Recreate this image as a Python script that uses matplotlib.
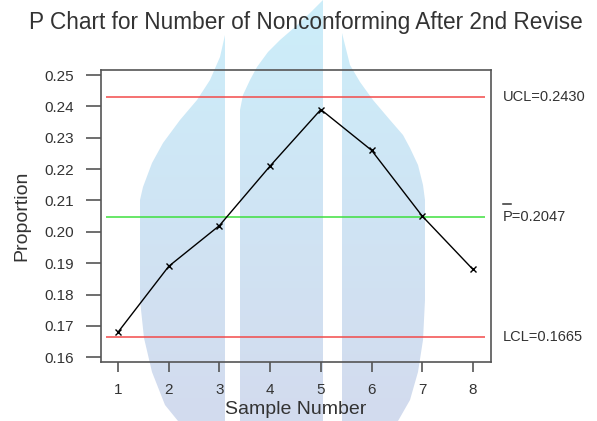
import numpy as np
import matplotlib
matplotlib.use("Agg")
import matplotlib.pyplot as plt
from matplotlib.path import Path
from matplotlib.patches import PathPatch
from matplotlib.transforms import blended_transform_factory

plt.rcParams['font.family'] = ['Liberation Sans', 'DejaVu Sans']

# data
samples = [1, 2, 3, 4, 5, 6, 7, 8]
proportion = [0.168, 0.189, 0.202, 0.221, 0.239, 0.226, 0.205, 0.188]
ucl = 0.2430
center = 0.2047
lcl = 0.1665
yticks = [0.16, 0.17, 0.18, 0.19, 0.20, 0.21, 0.22, 0.23, 0.24, 0.25]
ytick_labels = ["0.16", "0.17", "0.18", "0.19", "0.20", "0.21", "0.22", "0.23", "0.24", "0.25"]

W, H = 597, 421
fig = plt.figure(figsize=(W / 100, H / 100), dpi=100)
fig.patch.set_facecolor('white')

# watermark background (pixel coordinates)
bg = fig.add_axes([0, 0, 1, 1], zorder=0)
bg.set_xlim(0, W)
bg.set_ylim(H, 0)
bg.axis('off')
top_c = np.array([204, 238, 250]) / 255
bot_c = np.array([211, 219, 238]) / 255
t = np.linspace(0, 1, H)[:, None, None]
grad = top_c[None, None, :] * (1 - t) + bot_c[None, None, :] * t
left_shape = [(225, 35), (225, 421), (178, 421), (165, 405), (152, 372), (144, 338), (140, 300),
              (140, 200), (143, 187), (152, 163), (163, 143), (180, 120), (197, 100), (210, 80), (220, 57)]
mid_shape = [(240, 421), (240, 110), (243, 95), (250, 80), (257, 67), (268, 52), (280, 40),
             (295, 27), (310, 13), (323, 0), (323, 421)]
right_shape = [(342, 33), (342, 421), (398, 421), (410, 400), (418, 372), (423, 340), (425, 300),
               (425, 200), (423, 185), (418, 165), (410, 148), (403, 135), (390, 120), (373, 100),
               (360, 82), (350, 65)]
paths = [Path(np.array(s + [s[0]]), closed=True) for s in (left_shape, mid_shape, right_shape)]
comp = Path.make_compound_path(*paths)
patch = PathPatch(comp, facecolor='none', edgecolor='none')
bg.add_patch(patch)
im = bg.imshow(grad, extent=[0, W, H, 0], aspect='auto', zorder=0)
im.set_clip_path(patch)
bg.set_xlim(0, W)
bg.set_ylim(H, 0)

# main axes
ax = fig.add_axes([100.7 / W, 1 - 362.3 / H, (491 - 100.7) / W, (362.3 - 70) / H], zorder=1)
ax.set_facecolor('none')
ax.set_xlim(0.659, 8.355)
ax.set_ylim(0.1584, 0.2516)

ax.hlines([ucl, lcl], 0.76, 8.24, colors='#f24a4a', lw=1.1)
ax.hlines([center], 0.76, 8.24, colors='#3ee03e', lw=1.1)
ax.plot(samples, proportion, color='black', lw=1.0, marker='x', markersize=5, markeredgewidth=1.0)

for s in ax.spines.values():
    s.set_color('#555555')
    s.set_linewidth(1.2)

ax.set_xticks(samples)
ax.set_xticklabels([str(s) for s in samples])
ax.set_yticks(yticks)
ax.set_yticklabels(ytick_labels)
ax.tick_params(axis='y', length=11, width=1.2, color='#555555', pad=8,
               labelsize=11, labelcolor='#333333')
ax.tick_params(axis='x', length=7, width=1.2, color='#555555', pad=8,
               labelsize=11, labelcolor='#333333')

ax.set_ylabel('Proportion', fontsize=14, color='#333333', labelpad=10)
ax.set_xlabel('Sample Number', fontsize=14, color='#333333', labelpad=3)
fig.text(306 / W, 1 - 22 / H, 'P Chart for Number of Nonconforming After 2nd Revise',
         fontsize=16.3, color='#333333', ha='center', va='center')

tr = blended_transform_factory(fig.transFigure, ax.transData)
ax.text(503 / W, ucl, 'UCL=0.2430', transform=tr, fontsize=10.5, color='#333333', va='center', ha='left')
ax.text(503 / W, center, 'P=0.2047', transform=tr, fontsize=10.5, color='#333333', va='center', ha='left')
ax.text(503 / W, lcl, 'LCL=0.1665', transform=tr, fontsize=10.5, color='#333333', va='center', ha='left')
bg.plot([503, 511], [204, 204], color='#333333', lw=1.1)

fig.savefig('out.png', dpi=100)
